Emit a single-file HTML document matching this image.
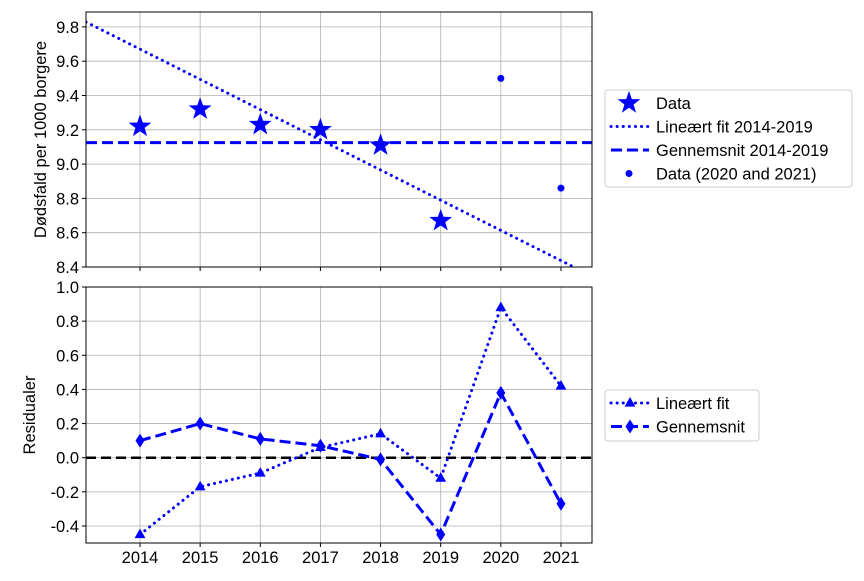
<!DOCTYPE html>
<html><head><meta charset="utf-8"><style>
body{margin:0;background:#fff}
svg{font-family:"Liberation Sans",sans-serif;font-size:16.5px}
</style></head><body>
<svg id="c" width="864" height="576" viewBox="0 0 864 576"></svg>
<script>
const years=[2014,2015,2016,2017,2018,2019,2020,2021];
const deaths=[9.22,9.32,9.23,9.20,9.11,8.67];
const extraDeaths=[9.50,8.86];
const fitParams=[9.67,-0.176];
const meanValue=[9.125];
const residLin=[-0.45,-0.17,-0.09,0.06,0.14,-0.12,0.88,0.42];
const residMean=[0.10,0.20,0.11,0.07,-0.01,-0.45,0.38,-0.27];
const topTicks=[8.4,8.6,8.8,9.0,9.2,9.4,9.6,9.8];
const botTicks=[-0.4,-0.2,0.0,0.2,0.4,0.6,0.8,1.0];

const svg=document.getElementById('c');const NS='http://www.w3.org/2000/svg';
function mk(t,a,p){const e=document.createElementNS(NS,t);for(const k in a)e.setAttribute(k,a[k]);(p||svg).appendChild(e);return e;}
const L=86,R=592;
const X=v=>140+(v-2014)*60.14;
const Y1=v=>267-(v-8.4)*171.5;
const Y2=v=>287+(1.0-v)*170.7;
function star(cx,cy,r){let p=[];for(let i=0;i<10;i++){const a=-Math.PI/2+i*Math.PI/5;const rr=i%2?r*0.4:r;p.push((cx+rr*Math.cos(a)).toFixed(1)+','+(cy+rr*Math.sin(a)).toFixed(1));}return p.join(' ');}
function tri(cx,cy,r){return `${cx},${cy-r} ${cx-r*0.9},${cy+r*0.6} ${cx+r*0.9},${cy+r*0.6}`;}
function dia(cx,cy){return `${cx},${cy-7} ${cx-4.5},${cy} ${cx},${cy+7} ${cx+4.5},${cy}`;}

function axes(top,bot,ticks,Y,name,lab){
  const g=mk('g',{});
  const cp=mk('clipPath',{id:name+'clip'},g);mk('rect',{x:L,y:top,width:R-L,height:bot-top},cp);
  years.forEach(y=>mk('line',{x1:X(y),x2:X(y),y1:top,y2:bot,stroke:'#b0b0b0','stroke-width':0.8},g));
  ticks.forEach(t=>{const yy=Y(t);mk('line',{x1:L,x2:R,y1:yy,y2:yy,stroke:'#b0b0b0','stroke-width':0.8},g);
    mk('line',{x1:L-4,x2:L,y1:yy,y2:yy,stroke:'#000'},g);
    const tx=mk('text',{x:L-7,y:yy+6,'text-anchor':'end'},g);tx.textContent=t.toFixed(1);});
  years.forEach(y=>mk('line',{x1:X(y),x2:X(y),y1:bot,y2:bot+4,stroke:'#000'},g));
  const yl=mk('text',{transform:`translate(${lab},${(top+bot)/2}) rotate(-90)`,'text-anchor':'middle'},g);yl.textContent=name==='top-axes'?'Dødsfald per 1000 borgere':'Residualer';
  return g;
}
const g1=axes(12,267,topTicks,Y1,'top-axes',46);
const g2=axes(287,543,botTicks,Y2,'bottom-axes',35);
years.forEach(y=>{const t=mk('text',{x:X(y),y:563,'text-anchor':'middle'});t.textContent=y;});

const c1=mk('g',{'clip-path':'url(#top-axesclip)'});
let e=mk('line',{x1:L,x2:R,y1:Y1(fitParams[0]+fitParams[1]*(2013.1-2014)),y2:Y1(fitParams[0]+fitParams[1]*(2021.52-2014)),stroke:'#00f','stroke-width':3,'stroke-dasharray':'0.1 6','stroke-linecap':'round'},c1);

e=mk('line',{x1:L,x2:R,y1:Y1(meanValue[0]),y2:Y1(meanValue[0]),stroke:'#00f','stroke-width':3,'stroke-dasharray':'11 5'},c1);

deaths.forEach((v,i)=>{const s=mk('polygon',{points:star(X(years[i]),Y1(v),12),fill:'#00f'});
  });
extraDeaths.forEach((v,i)=>{const s=mk('circle',{cx:X(years[6+i]),cy:Y1(v),r:3.5,fill:'#00f'});
  });

mk('line',{x1:L,x2:R,y1:Y2(0),y2:Y2(0),stroke:'#000','stroke-width':2.5,'stroke-dasharray':'10 5'});
e=mk('polyline',{points:residLin.map((v,i)=>X(years[i])+','+Y2(v)).join(' '),fill:'none',stroke:'#00f','stroke-width':3,'stroke-dasharray':'0.1 6','stroke-linecap':'round'});

e=mk('polyline',{points:residMean.map((v,i)=>X(years[i])+','+Y2(v)).join(' '),fill:'none',stroke:'#00f','stroke-width':3,'stroke-dasharray':'11 5'});

residLin.forEach((v,i)=>{const s=mk('polygon',{points:tri(X(years[i]),Y2(v),6),fill:'#00f'});
  });
residMean.forEach((v,i)=>{const s=mk('polygon',{points:dia(X(years[i]),Y2(v)),fill:'#00f'});
  });

mk('rect',{x:L,y:12,width:R-L,height:255,fill:'none',stroke:'#000','stroke-width':1});
mk('rect',{x:L,y:287,width:R-L,height:256,fill:'none',stroke:'#000','stroke-width':1});

function legend(x,y,w,h,items,name){
  const g=mk('g',{});
  mk('rect',{x,y,width:w,height:h,rx:3,fill:'#fff',stroke:'#ccc'},g);
  items.forEach((it,i)=>{const cy=y+13+i*23.5;const lx=x+6;
    if(it[0]==='star')mk('polygon',{points:star(lx+18,cy,12),fill:'#00f'},g);
    if(it[0]==='dot'){mk('line',{x1:lx,x2:lx+38,y1:cy,y2:cy,stroke:'#00f','stroke-width':3,'stroke-dasharray':'0.1 6','stroke-linecap':'round'},g);}
    if(it[0]==='dash')mk('line',{x1:lx,x2:lx+38,y1:cy,y2:cy,stroke:'#00f','stroke-width':3,'stroke-dasharray':'11 5'},g);
    if(it[0]==='pt')mk('circle',{cx:lx+18,cy,r:3.5,fill:'#00f'},g);
    if(it[0]==='dottri'){mk('line',{x1:lx,x2:lx+38,y1:cy,y2:cy,stroke:'#00f','stroke-width':3,'stroke-dasharray':'0.1 6','stroke-linecap':'round'},g);mk('polygon',{points:tri(lx+19,cy,6),fill:'#00f'},g);}
    if(it[0]==='dashdia'){mk('line',{x1:lx,x2:lx+38,y1:cy,y2:cy,stroke:'#00f','stroke-width':3,'stroke-dasharray':'11 5'},g);mk('polygon',{points:dia(lx+19,cy),fill:'#00f'},g);}
    const t=mk('text',{x:x+51,y:cy+6},g);t.textContent=it[1];});
}
legend(605,90,247,97,[['star','Data'],['dot','Lineært fit 2014-2019'],['dash','Gennemsnit 2014-2019'],['pt','Data (2020 and 2021)']],'top-legend');
legend(605,390,154,51,[['dottri','Lineært fit'],['dashdia','Gennemsnit']],'bottom-legend');
</script>
</body></html>
